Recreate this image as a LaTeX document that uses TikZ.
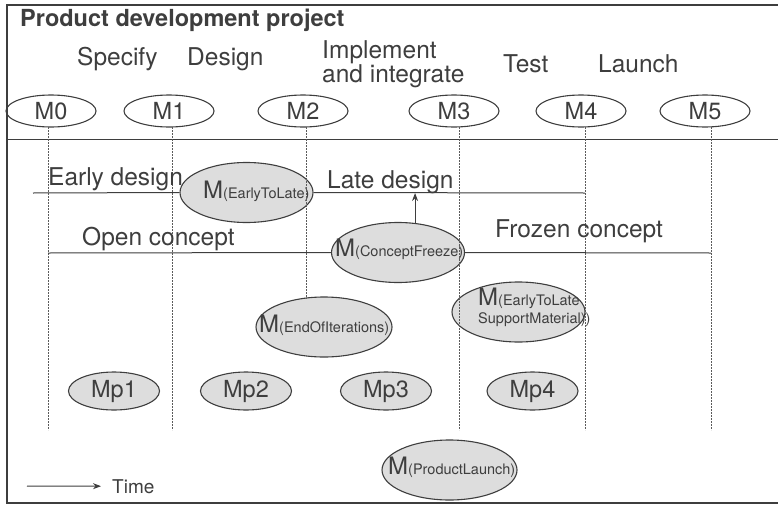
\documentclass[tikz,border=0pt]{standalone}
\definecolor{InkColor}{RGB}{62,62,62}
\definecolor{GateColor}{RGB}{221,221,221}
\usepackage{fontspec}
\setmainfont{TeX Gyre Heros}
\usepackage{tikz}
\usetikzlibrary{arrows.meta, shapes.geometric, positioning, calc}
\tikzstyle{arrow} = [line width=1pt, InkColor, -{Stealth[length=8pt, width=6pt]}]
\tikzstyle{milestone} = [draw=InkColor, line width=1.1pt, ellipse, inner sep=0pt, minimum width=90pt, minimum height=32pt, font=\fontsize{23.5}{24}\selectfont]
\tikzstyle{gate} = [draw=InkColor, line width=1.1pt, fill=GateColor, ellipse, inner sep=0pt, minimum width=133pt, minimum height=60pt]
\tikzstyle{workpoint} = [gate, minimum width=91pt, minimum height=38pt, font=\fontsize{23.5}{24}\selectfont]
\tikzstyle{phase} = [inner sep=0pt, anchor=base west, font=\fontsize{24.5}{24}\selectfont]
\tikzstyle{gatetext} = [inner sep=0pt, anchor=base west, align=left, font=\fontsize{24}{18}\selectfont]
\tikzstyle{gateline} = [line width=1pt, InkColor]
\tikzstyle{gridline} = [line width=0.7pt, InkColor!85, dash pattern=on 2pt off 1pt]
\newcommand{\gatesub}[1]{{\fontsize{14.5}{18}\selectfont #1}}

\begin{document}
\begin{tikzpicture}[x=1pt, y=-1pt, color=InkColor]
\useasboundingbox (0,0) rectangle (778,506);

% frame
\draw[line width=1.6pt] (778,5) -- (7,5) -- (7,503) -- (778,503);
\draw[gateline] (7,139) -- (778,139);

\node[anchor=base west, inner sep=0pt, font=\bfseries\fontsize{23.5}{24}\selectfont] (title) at (20,27) {Product development project};

% phases
\node[phase] (specify) at (77,65) {Specify};
\node[phase] (design) at (187,65) {Design};
\node[phase, align=left] (implement) at (322,82) {Implement\\and integrate};
\node[phase] (test) at (503,72) {Test};
\node[phase] (launch) at (598,72) {Launch};

% milestones
\node[milestone] (m0) at (51,111) {M0};
\node[milestone] (m1) at (169,111) {M1};
\node[milestone] (m2) at (303,111) {M2};
\node[milestone] (m3) at (454,111) {M3};
\node[milestone] (m4) at (581,111) {M4};
\node[milestone] (m5) at (705,111) {M5};

% decision points
\node[gate] (etl) at (246.5,192.5) {};
\node[gate] (cf) at (398,252.5) {};
\node[gate, minimum width=136pt] (eoi) at (324,327) {};
\node[gate] (sup) at (518.5,312) {};
\node[gate, minimum width=135pt] (pl) at (449.5,470) {};

\node[gatetext] (etltext) at (203,198) {M\gatesub{(EarlyToLate)}};
\node[gatetext] (cftext) at (335,256) {M\gatesub{(ConceptFreeze)}};
\node[gatetext] (eoitext) at (259,332) {M\gatesub{(EndOfIterations)}};
\node[gatetext] (suptext) at (478,323) {M\gatesub{(EarlyToLate}\\\gatesub{SupportMaterial))}};
\node[gatetext] (pltext) at (388,474) {M\gatesub{(ProductLaunch)}};

\node[workpoint] (mp1) at (114,391) {Mp1};
\node[workpoint] (mp2) at (246,391) {Mp2};
\node[workpoint] (mp3) at (386,391) {Mp3};
\node[workpoint] (mp4) at (532.5,391) {Mp4};

% time lines
\foreach \x in {48,172,459,585,711}
  \draw[gridline] (\x,127) -- (\x,430);
\draw[gridline] (306,127) -- (306,299);

% states
\coordinate (early) at (33,193);
\coordinate (late) at (585,193);
\coordinate (open) at (48,253);
\coordinate (frozen) at (711,253);
\draw[gateline] (early) -- (etl.west);
\draw[gateline] (etl.east) -- (late);
\draw[gateline] (open) -- (cf.west);
\draw[gateline] (cf.east) -- (frozen);
\draw[arrow] (cf.60) -- (cf.60 |- late);

\node[phase] (earlylbl) at (48,185) {Early design};
\node[phase] (latelbl) at (327,188) {Late design};
\node[phase] (openlbl) at (82,245) {Open concept};
\node[phase] (frozenlbl) at (495,237) {Frozen concept};

\node[anchor=base west, inner sep=0pt, font=\fontsize{19}{20}\selectfont] (time) at (112,493) {Time};
\coordinate (t0) at (27,486);
\draw[arrow, shorten >=11pt] (t0) -- (time.west);
\end{tikzpicture}
\end{document}
